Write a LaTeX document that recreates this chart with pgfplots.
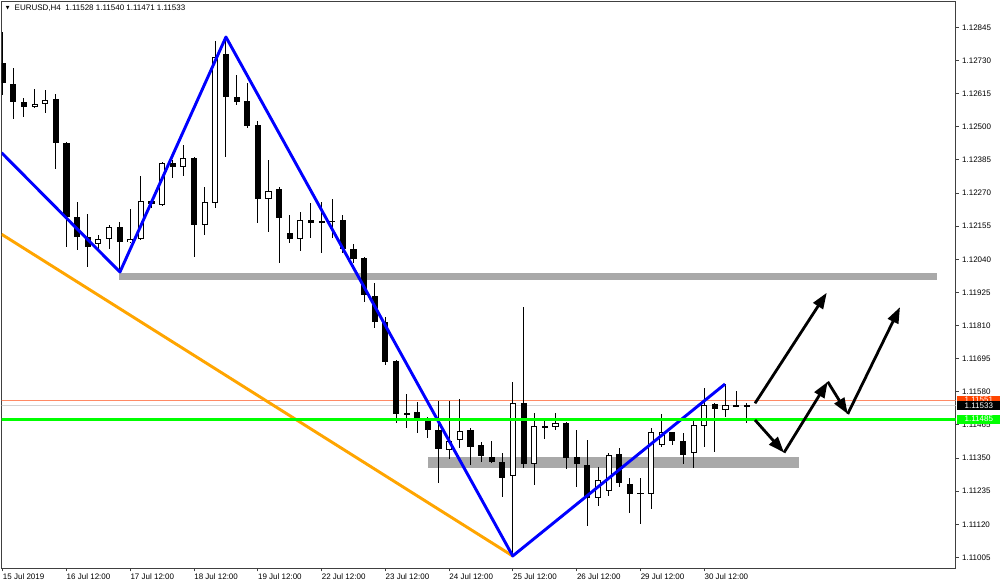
\documentclass[border=0pt]{standalone}
\usepackage{fontspec}
\setmainfont{Liberation Sans}
\newfontfamily\dejavu{DejaVu Sans}
\usepackage{pgfplots}
\pgfplotsset{compat=1.18}
\usepackage{pgfplotstable}
\usetikzlibrary{arrows.meta}

\definecolor{frame}{HTML}{404040}
\definecolor{zone}{HTML}{A9A9A9}
\definecolor{askline}{HTML}{FF8A65}
\definecolor{askbox}{HTML}{FF4500}
\definecolor{bidline}{HTML}{D3D3D3}
\definecolor{lvl}{HTML}{00FF00}
\definecolor{zig}{HTML}{0000FF}
\definecolor{trend}{HTML}{FFA500}

\pgfplotstableread{
x o h l c
0 1.12723 1.12832 1.12612 1.12654
1 1.12650 1.12706 1.12529 1.12588
2 1.12588 1.12602 1.12535 1.12570
3 1.12570 1.12633 1.12567 1.12581
4 1.12581 1.12629 1.12549 1.12595
5 1.12598 1.12615 1.12355 1.12445
6 1.12445 1.12448 1.12083 1.12188
7 1.12188 1.12240 1.12073 1.12118
8 1.12118 1.12198 1.12014 1.12083
9 1.12094 1.12125 1.12076 1.12111
10 1.12111 1.12160 1.12076 1.12153
11 1.12153 1.12170 1.11995 1.12101
12 1.12101 1.12215 1.12098 1.12111
13 1.12111 1.12330 1.12108 1.12243
14 1.12243 1.12250 1.12219 1.12233
15 1.12229 1.12379 1.12226 1.12375
16 1.12375 1.12386 1.12323 1.12362
17 1.12362 1.12438 1.12330 1.12393
18 1.12393 1.12395 1.12049 1.12160
19 1.12160 1.12292 1.12125 1.12240
20 1.12236 1.12800 1.12219 1.12744
21 1.12755 1.12814 1.12396 1.12605
22 1.12605 1.12682 1.12577 1.12588
23 1.12591 1.12654 1.12497 1.12504
24 1.12508 1.12522 1.12167 1.12250
25 1.12250 1.12386 1.12136 1.12278
26 1.12285 1.12292 1.12028 1.12184
27 1.12132 1.12195 1.12097 1.12111
28 1.12111 1.12205 1.12069 1.12177
29 1.12177 1.12236 1.12115 1.12167
30 1.12170 1.12240 1.12062 1.12173
31 1.12172 1.12250 1.12115 1.12175
32 1.12177 1.12195 1.12062 1.12076
33 1.12076 1.12094 1.12028 1.12042
34 1.12045 1.12047 1.11892 1.11916
35 1.11913 1.11958 1.11802 1.11822
36 1.11822 1.11843 1.11676 1.11683
37 1.11686 1.11690 1.11471 1.11502
38 1.11502 1.11572 1.11454 1.11506
39 1.11509 1.11544 1.11436 1.11478
40 1.11478 1.11492 1.11422 1.11447
41 1.11447 1.11551 1.11266 1.11381
42 1.11381 1.11548 1.11349 1.11412
43 1.11412 1.11555 1.11384 1.11443
44 1.11447 1.11454 1.11325 1.11388
45 1.11395 1.11405 1.11336 1.11356
46 1.11356 1.11409 1.11332 1.11336
47 1.11339 1.11367 1.11214 1.11283
48 1.11287 1.11614 1.11007 1.11541
49 1.11541 1.11875 1.11318 1.11329
50 1.11329 1.11506 1.11256 1.11461
51 1.11455 1.11485 1.11416 1.11461
52 1.11457 1.11506 1.11447 1.11471
53 1.11471 1.11478 1.11315 1.11350
54 1.11353 1.11447 1.11249 1.11329
55 1.11329 1.11412 1.11113 1.11214
56 1.11214 1.11318 1.11183 1.11276
57 1.11238 1.11367 1.11217 1.11360
58 1.11363 1.11384 1.11249 1.11263
59 1.11263 1.11283 1.11162 1.11228
60 1.11228 1.11280 1.11123 1.11228
61 1.11228 1.11454 1.11172 1.11443
62 1.11395 1.11506 1.11391 1.11443
63 1.11440 1.11443 1.11395 1.11409
64 1.11409 1.11436 1.11329 1.11363
65 1.11367 1.11482 1.11315 1.11464
66 1.11464 1.11593 1.11388 1.11537
67 1.11537 1.11541 1.11374 1.11520
68 1.11516 1.11607 1.11492 1.11534
69 1.11532 1.11583 1.11530 1.11532
70 1.11528 1.11540 1.11471 1.11533
}\candles

\begin{document}
\begin{tikzpicture}
\fill[white] (0,0) rectangle (750pt,438.75pt);
\useasboundingbox (0,0) rectangle (750pt,438.75pt);
\begin{axis}[
  at={(1.275pt,12.525pt)}, anchor=south west,
  scale only axis, width=715.5pt, height=424.95pt,
  xmin=-0.094, xmax=89.65, ymin=1.109672, ymax=1.129346,
  axis line style={draw=frame, line width=0.75pt},
  xtick={0,6,...,66},
  xticklabels={15 Jul 2019,16 Jul 12:00,17 Jul 12:00,18 Jul 12:00,19 Jul 12:00,22 Jul 12:00,23 Jul 12:00,24 Jul 12:00,25 Jul 12:00,26 Jul 12:00,29 Jul 12:00,30 Jul 12:00},
  ytick={1.11005,1.11120,1.11235,1.11350,1.11465,1.11580,1.11695,1.11810,1.11925,1.12040,1.12155,1.12270,1.12385,1.12500,1.12615,1.12730,1.12845},
  yticklabels={1.11005,1.11120,1.11235,1.11350,1.11465,1.11580,1.11695,1.11810,1.11925,1.12040,1.12155,1.12270,1.12385,1.12500,1.12615,1.12730,1.12845},
  xtick pos=left, ytick pos=right,
  xticklabel pos=left, yticklabel pos=right,
  tick align=outside,
  major tick length=2.25pt,
  tick style={draw=frame, line width=0.75pt},
  xticklabel style={anchor=north west, inner sep=0pt, font=\fontsize{6}{7}\selectfont, text=black, yshift=-1.5pt},
  yticklabel style={anchor=west, inner sep=0pt, font=\fontsize{6}{7}\selectfont, text=black, xshift=2.4pt},
  clip=true,
]
% background zones
\addplot[draw=none, fill=zone] coordinates {(10.94,1.11967) (87.9,1.11967) (87.9,1.11992) (10.94,1.11992)} -- cycle;
\addplot[draw=none, fill=zone] coordinates {(40.0,1.11317) (74.9,1.11317) (74.9,1.11354) (40.0,1.11354)} -- cycle;
% ask / bid lines
\addplot[askline, line width=0.75pt] coordinates {(-1,1.11551) (95,1.11551)};
\addplot[bidline, line width=0.75pt] coordinates {(-1,1.11533) (95,1.11533)};
% wicks
\addplot[draw=none, error bars/.cd, y dir=both, y explicit, error mark=none,
  error bar style={draw=black, line width=0.75pt}]
  table[x=x, y expr={(\thisrow{h}+\thisrow{l})/2}, y error expr={(\thisrow{h}-\thisrow{l})/2}] {\candles};
% bodies
\addplot[draw=none, error bars/.cd, y dir=both, y explicit, error mark=none,
  error bar style={draw=black, line width=4.6pt}]
  table[x=x, y expr={(\thisrow{o}+\thisrow{c})/2}, y error expr={max(abs(\thisrow{o}-\thisrow{c})/2,0.000018)}] {\candles};
% bull body interiors
\addplot[draw=none, restrict expr to domain={\thisrow{c}-\thisrow{o}}{0.00008:1},
  error bars/.cd, y dir=both, y explicit, error mark=none,
  error bar style={draw=white, line width=3.1pt}]
  table[x=x, y expr={(\thisrow{o}+\thisrow{c})/2}, y error expr={(\thisrow{c}-\thisrow{o})/2-0.000035}] {\candles};
% trend lines
\addplot[trend, line width=2.2pt] coordinates {(-0.1,1.12127) (47.98,1.11010)};
\addplot[zig, line width=2.2pt, line join=round] coordinates {(-0.1,1.12410) (11.03,1.11996) (21.0,1.12812) (47.98,1.11010) (67.95,1.11607)};
\addplot[lvl, line width=2.2pt] coordinates {(-1,1.11485) (95,1.11485)};
% arrows
\addplot[black, line width=2.1pt, -{Triangle[length=12pt,width=8.5pt]}] coordinates {(70.77,1.11540) (77.52,1.11924)};
\addplot[black, line width=2.1pt, -{Triangle[length=12pt,width=8.5pt]}] coordinates {(70.77,1.11482) (73.50,1.11369)};
\addplot[black, line width=2.1pt, -{Triangle[length=12pt,width=8.5pt]}] coordinates {(73.50,1.11369) (77.61,1.11615)};
\addplot[black, line width=2.1pt, -{Triangle[length=12pt,width=8.5pt]}] coordinates {(77.61,1.11615) (79.49,1.11503)};
\addplot[black, line width=2.1pt, -{Triangle[length=12pt,width=8.5pt]}] coordinates {(79.49,1.11503) (84.41,1.11874)};
\coordinate (pa) at (axis cs:89.65,1.11551);
\coordinate (pb) at (axis cs:89.65,1.11533);
\coordinate (pg) at (axis cs:89.65,1.11485);
\end{axis}
\node[fill=askbox, text=white, anchor=west, minimum width=32.25pt, minimum height=6.75pt, inner sep=0pt, font=\fontsize{6}{6}\selectfont, xshift=1pt] at (pa) {1.11551};
\node[fill=black, text=white, anchor=west, minimum width=32.25pt, minimum height=6.5pt, inner sep=0pt, font=\fontsize{6}{6}\selectfont, xshift=1pt] at (pb) {1.11533};
\node[fill=lvl, text=white, anchor=west, minimum width=32.25pt, minimum height=6.5pt, inner sep=0pt, font=\fontsize{6}{6}\selectfont, xshift=1pt] at (pg) {1.11485};
\node[anchor=west, inner sep=0pt, font=\fontsize{6}{7}\selectfont] at (10.8pt,432.8pt) {EURUSD,H4\ \ 1.11528 1.11540 1.11471 1.11533};
\node[anchor=west, inner sep=0pt, font=\dejavu\fontsize{3.6}{4}\selectfont] at (4.2pt,432.6pt) {▼};
\end{tikzpicture}
\end{document}
